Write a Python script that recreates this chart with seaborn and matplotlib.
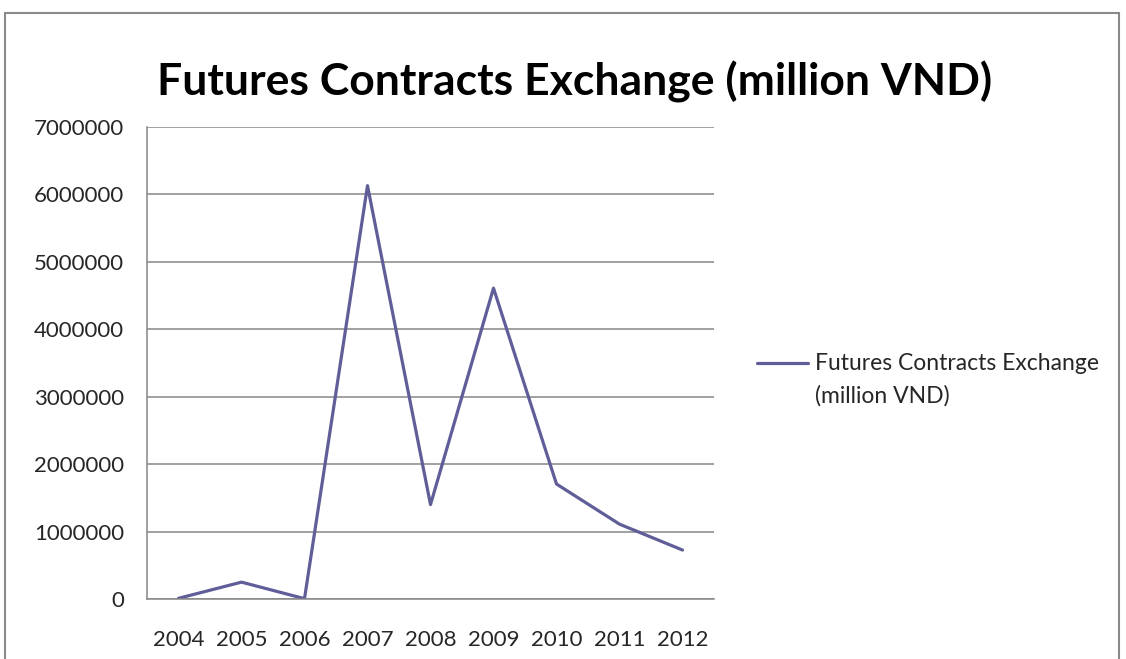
import matplotlib
matplotlib.use("Agg")
import matplotlib.pyplot as plt
from matplotlib.patches import Rectangle
import seaborn as sns
import pandas as pd

years = ["2004", "2005", "2006", "2007", "2008", "2009", "2010", "2011", "2012"]
values = [10000, 250000, 5000, 6130000, 1400000, 4610000, 1705000, 1110000, 726000]
series_name = "Futures Contracts Exchange (million VND)"
y_ticks = [0, 1000000, 2000000, 3000000, 4000000, 5000000, 6000000, 7000000]

df = pd.DataFrame({"pos": range(len(years)), "year": years, "value": values})

sns.set_style("white")
plt.rcParams["font.family"] = ["Lato", "DejaVu Sans"]

W, H = 1126, 659
fig = plt.figure(figsize=(W / 100, H / 100), dpi=100)
ax = fig.add_axes([147 / W, 1 - 599 / H, (714 - 147) / W, (599 - 127) / H])

line_color = "#5F5E99"
grid_color = "#868686"

sns.lineplot(data=df, x="pos", y="value", ax=ax, color=line_color,
             linewidth=2.3, label=series_name, legend=False)

ax.set_xlim(-0.5, len(years) - 0.5)
ax.set_ylim(0, 7000000)
ax.set_yticks(y_ticks)
ax.set_yticklabels([str(v) for v in y_ticks], fontsize=16)
ax.yaxis.grid(True, color=grid_color, linewidth=1.1)
ax.set_axisbelow(True)

# category labels centred, tick marks between categories
ax.set_xticks(range(len(years)))
ax.set_xticklabels(years, fontsize=16)
ax.tick_params(axis="x", which="major", length=0, pad=22)
ax.set_xticks([i - 0.5 for i in range(len(years) + 1)], minor=True)
ax.tick_params(axis="x", which="minor", length=6, width=1.1, color=grid_color, direction="out")
ax.tick_params(axis="y", length=6.5, width=1.1, color=grid_color, direction="out", pad=10)

for side in ["top", "right"]:
    ax.spines[side].set_visible(False)
for side in ["left", "bottom"]:
    ax.spines[side].set_color(grid_color)
    ax.spines[side].set_linewidth(1.1)
ax.set_xlabel("")
ax.set_ylabel("")

fig.text(575 / W, 1 - 82 / H, series_name, ha="center", va="center",
         fontsize=32, fontweight="bold", color="black")

# legend entry on the right
fig.add_artist(plt.Line2D([757 / W, 808 / W], [1 - 363 / H, 1 - 363 / H],
                          color=line_color, linewidth=2.3))
fig.text(815 / W, 1 - 363 / H, "Futures Contracts Exchange", ha="left", va="center", fontsize=16.5)
fig.text(815 / W, 1 - 396 / H, "(million VND)", ha="left", va="center", fontsize=16.5)

# outer chart frame
fig.add_artist(Rectangle((5 / W, -0.05), (1119 - 5) / W, 1 - 13 / H + 0.05,
                         transform=fig.transFigure, fill=False,
                         edgecolor="#8A8A8A", linewidth=1.5))

fig.savefig("out.png", dpi=100)
